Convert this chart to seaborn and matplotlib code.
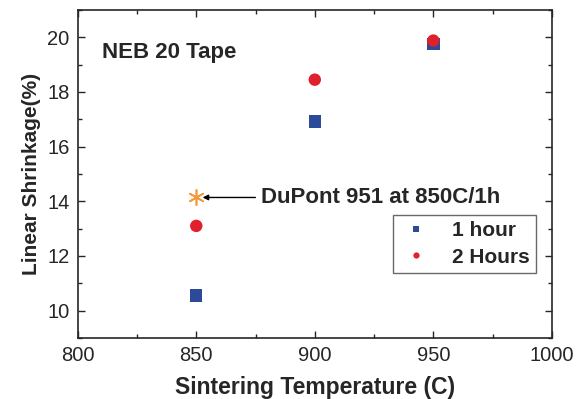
import matplotlib.pyplot as plt
import seaborn as sns
import pandas as pd
from matplotlib.ticker import MultipleLocator

# data
temps = [850, 900, 950]
shrink_1h = [10.55, 16.92, 19.75]
shrink_2h = [13.10, 18.45, 19.88]
dupont_temp = [850]
dupont_shrink = [14.14]

df = pd.DataFrame({
    'temp': temps * 2,
    'shrink': shrink_1h + shrink_2h,
    'time': ['1 hour'] * 3 + ['2 Hours'] * 3,
})

sns.set_style('ticks')
plt.rcParams['font.family'] = ['Liberation Sans', 'DejaVu Sans']

fig = plt.figure(figsize=(5.76, 3.99), dpi=100)
ax = fig.add_axes([0.135, 0.153, 0.823, 0.822])

sns.scatterplot(data=df, x='temp', y='shrink', hue='time', style='time',
                palette={'1 hour': '#2b4a9a', '2 Hours': '#e0202c'},
                markers={'1 hour': 's', '2 Hours': 'o'},
                s=80, linewidth=0, ax=ax, zorder=3)
ax.scatter(dupont_temp, dupont_shrink, marker=(6, 2, 0), s=120,
           color='#f39a3a', linewidth=1.2, zorder=3)

ax.annotate('DuPont 951 at 850C/1h', xy=(dupont_temp[0] + 1.5, dupont_shrink[0]),
            xytext=(877.5, dupont_shrink[0]), va='center', ha='left',
            fontsize=16, fontweight='bold',
            arrowprops=dict(arrowstyle='-|>', color='black', lw=1, mutation_scale=8))
ax.text(0.052, 0.855, 'NEB 20 Tape', transform=ax.transAxes,
        fontsize=16, fontweight='bold')

ax.set_xlim(800, 1000)
ax.set_ylim(9, 21)
ax.xaxis.set_major_locator(MultipleLocator(50))
ax.xaxis.set_minor_locator(MultipleLocator(25))
ax.yaxis.set_major_locator(MultipleLocator(2))
ax.yaxis.set_minor_locator(MultipleLocator(1))
ax.tick_params(which='both', direction='in', top=True, right=True, labelsize=14.5)
ax.tick_params(which='major', length=5, width=1, pad=6)
ax.tick_params(which='minor', length=3, width=1)
for sp in ax.spines.values():
    sp.set_linewidth(1.2)

ax.set_xlabel('Sintering Temperature (C)', fontsize=16.5, fontweight='bold', labelpad=8)
ax.set_ylabel('Linear Shrinkage(%)', fontsize=15, fontweight='bold', labelpad=4)

leg = ax.legend(loc='upper right', bbox_to_anchor=(0.966, 0.375), fontsize=15,
                frameon=True, fancybox=False, edgecolor='#444444',
                markerscale=0.5, handletextpad=0.9, borderpad=0.3,
                labelspacing=0.35, handlelength=1.6, borderaxespad=0)
for t in leg.get_texts():
    t.set_fontweight('bold')
leg.get_frame().set_linewidth(1)

plt.savefig('out.png', dpi=100)
